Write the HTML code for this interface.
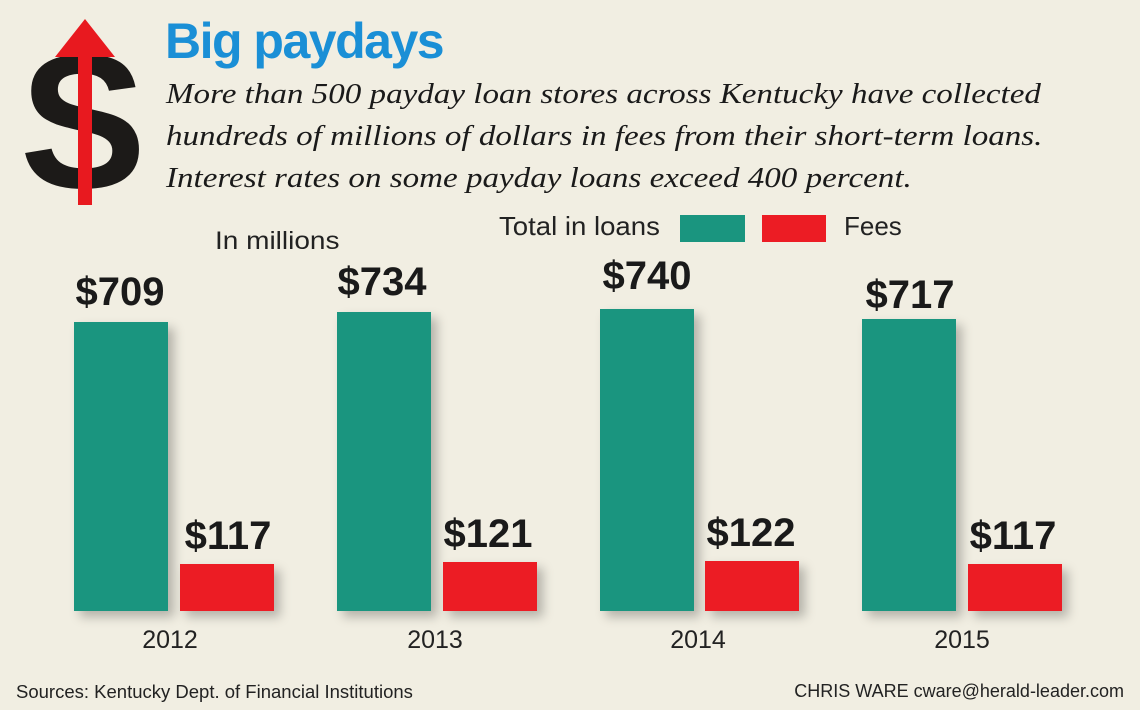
<!DOCTYPE html>
<html><head><meta charset="utf-8"><style>
body{margin:0;width:1140px;height:710px;background:#f1eee2;position:relative;overflow:hidden;font-family:"Liberation Sans",sans-serif;color:#222}
div{position:absolute;white-space:nowrap}
.g{background:#1a957f;width:94px;box-shadow:6px 6px 10px rgba(0,0,0,.25)}
.r{background:#ec1c24;width:94px;box-shadow:6px 6px 10px rgba(0,0,0,.25)}
.v{font-weight:bold;font-size:40px;width:160px;text-align:center;color:#1a1a1a}
.y{font-size:25px;width:160px;text-align:center;top:626px}
.s{font-family:"Liberation Serif",serif;font-style:italic;font-size:29px;left:166px;color:#1a1a1a;transform:scaleX(1.14);transform-origin:0 0}
</style></head><body>
<svg style="position:absolute;left:25px;top:15px" width="120" height="195">
<text x="58" y="172" font-family="Liberation Sans" font-weight="bold" font-size="190" text-anchor="middle" fill="#1c1a18">S</text>
<rect x="53" y="40" width="14" height="150" fill="#e8191f"/>
<polygon points="30,42 60,4 90,42" fill="#e8191f"/>
</svg>
<div style="left:165px;top:12px;font-size:50px;font-weight:bold;color:#1a8fd6;letter-spacing:-1.5px">Big paydays</div>
<div class="s" style="top:78px">More than 500 payday loan stores across Kentucky have collected</div>
<div class="s" style="top:120px">hundreds of millions of dollars in fees from their short-term loans.</div>
<div class="s" style="top:162px">Interest rates on some payday loans exceed 400 percent.</div>
<div style="left:499px;top:211px;font-size:26px;transform:scaleX(1.06);transform-origin:0 0">Total in loans</div>
<div style="left:680px;top:215px;width:65px;height:27px;background:#1a957f"></div>
<div style="left:762px;top:215px;width:64px;height:27px;background:#ec1c24"></div>
<div style="left:844px;top:211px;font-size:26px">Fees</div>
<div style="left:215px;top:227px;font-size:25px;transform:scaleX(1.12);transform-origin:0 0">In millions</div>

<div class="g" style="left:74px;top:322px;height:289px"></div>
<div class="r" style="left:180px;top:564px;height:47px"></div>
<div class="v" style="left:40px;top:270px">$709</div>
<div class="v" style="left:148px;top:514px">$117</div>
<div class="y" style="left:90px">2012</div>

<div class="g" style="left:337px;top:312px;height:299px"></div>
<div class="r" style="left:443px;top:562px;height:49px"></div>
<div class="v" style="left:302px;top:260px">$734</div>
<div class="v" style="left:408px;top:512px">$121</div>
<div class="y" style="left:355px">2013</div>

<div class="g" style="left:600px;top:309px;height:302px"></div>
<div class="r" style="left:705px;top:561px;height:50px"></div>
<div class="v" style="left:567px;top:254px">$740</div>
<div class="v" style="left:671px;top:511px">$122</div>
<div class="y" style="left:618px">2014</div>

<div class="g" style="left:862px;top:319px;height:292px"></div>
<div class="r" style="left:968px;top:564px;height:47px"></div>
<div class="v" style="left:830px;top:273px">$717</div>
<div class="v" style="left:933px;top:514px">$117</div>
<div class="y" style="left:882px">2015</div>

<div style="left:16px;top:681px;font-size:18.5px">Sources: Kentucky Dept. of Financial Institutions</div>
<div style="right:16px;top:681px;font-size:18px">CHRIS WARE cware@herald-leader.com</div>
</body></html>
